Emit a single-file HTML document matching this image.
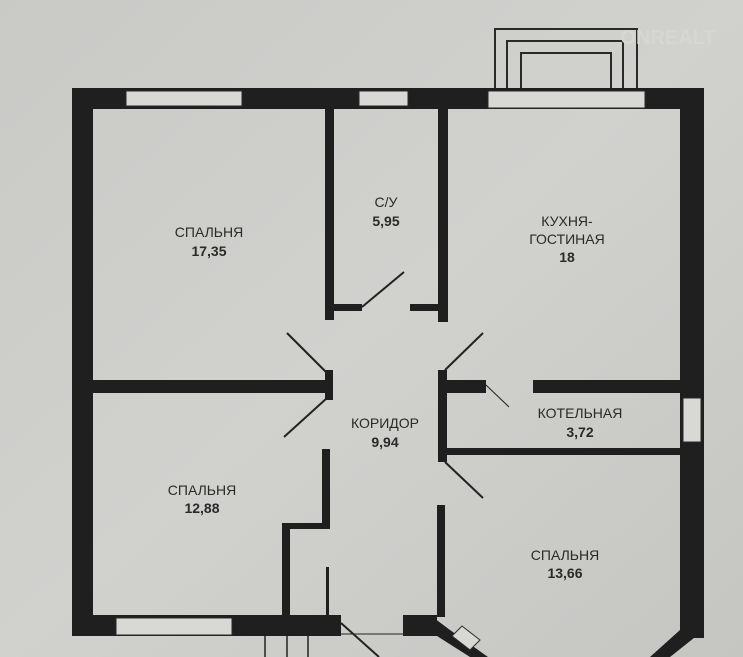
<!DOCTYPE html>
<html><head><meta charset="utf-8"><style>
html,body{margin:0;padding:0;background:#cbcbc8;}
svg{display:block}
text{font-family:"Liberation Sans",sans-serif;font-size:14px;fill:#2a2a2a;text-anchor:middle}
.b{font-weight:bold}
</style></head><body>
<svg width="743" height="657" viewBox="0 0 743 657" xmlns="http://www.w3.org/2000/svg">
<defs><linearGradient id="g" x1="0" y1="0" x2="1" y2="1"><stop offset="0" stop-color="#c9c9c6"/><stop offset="0.5" stop-color="#d1d1ce"/><stop offset="1" stop-color="#c5c5c2"/></linearGradient></defs>
<rect width="743" height="657" fill="url(#g)"/>
<g fill="none" stroke="#2a2a2a" stroke-width="2">
<path d="M495 90 V29 H637 V90"/><path d="M507 90 V41 H623 V90"/><path d="M521 90 V53 H611 V90"/>
</g>
<text x="668" y="44" style="font-size:20px;fill:#d6d6d3;font-weight:bold">ONREALT</text>
<g fill="#1f1f1f">
<rect x="72" y="88" width="632" height="21"/>
<rect x="72" y="88" width="21" height="548"/>
<rect x="680" y="88" width="24" height="550"/>
<rect x="90" y="380" width="242" height="13"/>
<rect x="325" y="370" width="8" height="30"/>
<rect x="325" y="108" width="9" height="212"/>
<rect x="438" y="108" width="10" height="214"/>
<rect x="332" y="304" width="30" height="7"/>
<rect x="410" y="304" width="28" height="7"/>
<rect x="438" y="370" width="9" height="92"/>
<rect x="447" y="380" width="39" height="13"/>
<rect x="533" y="380" width="149" height="13"/>
<rect x="447" y="448" width="235" height="7"/>
<rect x="322" y="449" width="8" height="80"/>
<rect x="282" y="523" width="48" height="6"/>
<rect x="282" y="523" width="8" height="95"/>
<rect x="437" y="505" width="8" height="112"/>
<rect x="326" y="567" width="3" height="50"/>
<rect x="72" y="615" width="269" height="21"/>
<rect x="403" y="615" width="34" height="21"/>
<polygon points="430,615 450,630 488,657 470,657 437,636"/>
<polygon points="680,630 704,630 670,657 650,657"/>
</g>
<polygon points="452,636 462,626 480,640 470,650" fill="#d8d8d5" stroke="#2a2a2a" stroke-width="1"/>
<g fill="#d8d8d5" stroke="#2a2a2a" stroke-width="1">
<rect x="126" y="91" width="116" height="15"/>
<rect x="359" y="91" width="49" height="15"/>
<rect x="488" y="91" width="157" height="17"/>
<rect x="683" y="398" width="18" height="44"/>
<rect x="116" y="618" width="116" height="17"/>
</g>
<g stroke="#222" stroke-width="2" fill="none">
<line x1="362" y1="307" x2="404" y2="272"/>
<line x1="327" y1="373" x2="287" y2="333"/>
<line x1="327" y1="398" x2="284" y2="437"/>
<line x1="445" y1="370" x2="483" y2="333"/>
<line x1="445" y1="462" x2="483" y2="498"/>
<line x1="341" y1="623" x2="379" y2="657"/>
<line x1="341" y1="634" x2="403" y2="634" stroke-width="1"/>
<line x1="486" y1="385" x2="509" y2="407" stroke-width="1"/>
<line x1="265" y1="636" x2="265" y2="657" stroke-width="1.5"/>
<line x1="287" y1="636" x2="287" y2="657" stroke-width="1.5"/>
<line x1="308" y1="636" x2="308" y2="657" stroke-width="1.5"/>
</g>
<text x="209" y="237">СПАЛЬНЯ</text><text x="209" y="256" class="b">17,35</text>
<text x="386" y="207">С/У</text><text x="386" y="226" class="b">5,95</text>
<text x="567" y="226">КУХНЯ-</text><text x="567" y="244">ГОСТИНАЯ</text><text x="567" y="262" class="b">18</text>
<text x="385" y="428">КОРИДОР</text><text x="385" y="447" class="b">9,94</text>
<text x="580" y="418">КОТЕЛЬНАЯ</text><text x="580" y="437" class="b">3,72</text>
<text x="202" y="495">СПАЛЬНЯ</text><text x="202" y="513" class="b">12,88</text>
<text x="565" y="560">СПАЛЬНЯ</text><text x="565" y="578" class="b">13,66</text>
</svg>
</body></html>
